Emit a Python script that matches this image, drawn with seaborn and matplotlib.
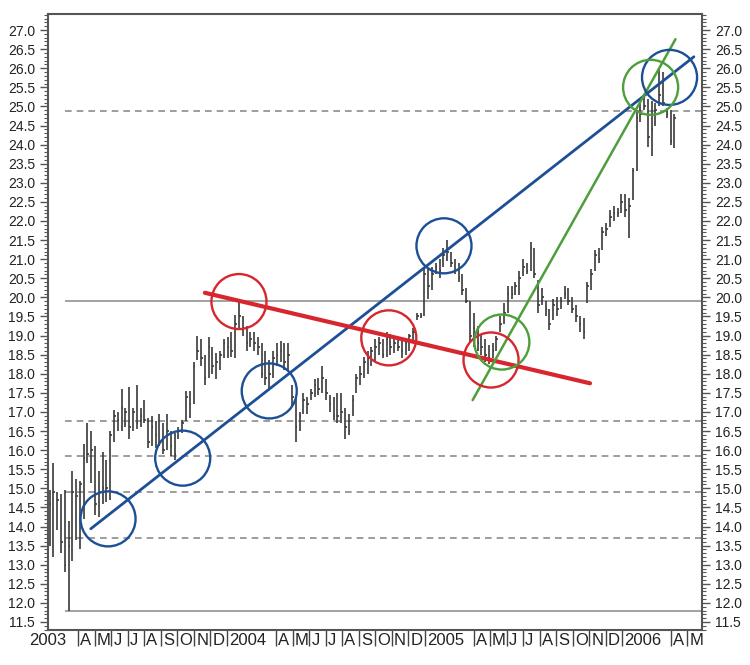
import matplotlib
matplotlib.use("Agg")
import matplotlib.pyplot as plt
import seaborn as sns
import pandas as pd
from matplotlib import font_manager, ticker, transforms

# weekly high / low / close, first bar on 2003-02-07
highs = [
    14.95, 15.65, 14.9, 14.85, 14.95, 14.15, 15.45, 15.25, 15.2, 16.15,
    16.7, 16.5, 16.1, 15.45, 15.95, 15.75, 16.5, 17.05, 17.0, 17.6,
    17.1, 17.65, 17.1, 17.7, 17.1, 17.3, 16.85, 16.9, 16.75, 16.95,
    16.7, 16.95, 16.5, 16.45, 16.6, 16.8, 17.55, 17.55, 18.3, 19.0,
    18.9, 18.5, 18.95, 18.7, 18.55, 18.6, 18.9, 18.95, 19.1, 19.55,
    19.9, 19.5, 19.25, 19.1, 19.1, 18.95, 18.8, 18.6, 18.35, 18.6,
    18.8, 18.85, 18.8, 18.8, 17.7, 17.4, 17.0, 17.5, 17.4, 17.6,
    17.85, 17.9, 18.2, 17.85, 17.45, 17.4, 17.5, 17.5, 17.1, 16.95,
    17.45, 18.0, 18.2, 18.45, 18.6, 18.7, 18.9, 18.95, 18.9, 19.1,
    19.05, 19.0, 18.95, 18.85, 18.9, 19.05, 19.2, 19.6, 19.6, 20.8,
    20.75, 20.8, 20.9, 21.0, 21.3, 21.5, 21.2, 21.0, 20.9, 20.6,
    20.25, 19.9, 19.6, 19.25, 19.05, 18.9, 18.75, 18.8, 19.0, 19.5,
    19.85, 20.3, 20.3, 20.4, 20.7, 21.0, 20.9, 21.45, 21.3, 20.45,
    20.25, 19.9, 19.7, 19.95, 20.0, 20.0, 20.3, 20.25, 20.0, 19.8,
    19.5, 19.45, 20.4, 20.75, 21.25, 21.3, 21.85, 21.95, 22.3, 22.4,
    22.35, 22.7, 22.7, 22.6, 23.4, 24.9, 25.1, 25.25, 25.2, 25.15,
    25.1, 26.0, 25.9, 24.95, 24.9, 24.8]
lows = [
    13.5, 13.2, 13.9, 13.3, 12.8, 11.8, 13.1, 13.65, 13.4, 14.2,
    15.65, 15.15, 14.3, 14.25, 14.6, 14.65, 14.7, 16.2, 16.5, 16.5,
    16.6, 16.3, 16.5, 16.55, 16.6, 16.7, 16.05, 16.1, 16.05, 16.1,
    15.9, 16.0, 15.85, 15.75, 16.3, 16.45, 16.75, 16.85, 17.2, 18.35,
    18.2, 17.7, 17.9, 18.0, 17.85, 18.1, 18.4, 18.4, 18.45, 18.4,
    19.2, 19.0, 18.6, 18.7, 18.6, 18.5, 17.9, 17.7, 17.6, 17.9,
    18.2, 18.3, 18.1, 18.1, 17.15, 16.2, 16.5, 16.95, 16.95, 17.3,
    17.4, 17.45, 17.5, 17.3, 17.0, 16.8, 16.7, 16.7, 16.3, 16.4,
    16.9, 17.5, 17.7, 17.9, 18.0, 18.2, 18.3, 18.5, 18.4, 18.45,
    18.5, 18.55, 18.6, 18.4, 18.5, 18.6, 18.8, 19.4, 19.45, 19.5,
    19.95, 20.2, 20.6, 20.5, 20.8, 20.95, 20.8, 20.6, 20.4, 20.05,
    19.85, 18.8, 18.7, 18.6, 18.5, 18.3, 18.25, 18.4, 18.6, 19.1,
    19.3, 19.6, 19.95, 20.05, 20.05, 20.55, 20.6, 20.7, 20.5, 19.6,
    19.8, 19.5, 19.15, 19.4, 19.5, 19.7, 19.95, 19.8, 19.6, 19.35,
    19.1, 18.9, 19.85, 20.2, 20.7, 20.9, 21.25, 21.6, 21.85, 22.0,
    22.1, 22.2, 22.1, 21.55, 22.55, 23.3, 24.6, 24.9, 23.95, 23.7,
    24.5, 25.0, 25.0, 24.7, 24.0, 23.9]
closes = [
    14.6, 14.9, 14.7, 13.6, 13.0, 13.5, 14.9, 14.8, 15.1, 15.8,
    15.9, 16.0, 14.6, 14.9, 15.0, 15.0, 16.4, 16.9, 16.8, 17.1,
    17.0, 16.6, 17.0, 16.7, 16.9, 16.8, 16.2, 16.6, 16.4, 16.2,
    16.0, 16.5, 16.1, 15.9, 16.5, 16.7, 17.4, 17.2, 18.2, 18.6,
    18.4, 17.9, 18.7, 18.2, 18.3, 18.5, 18.8, 18.7, 18.6, 19.3,
    19.5, 19.2, 18.8, 18.9, 18.8, 18.7, 18.0, 17.9, 18.0, 18.4,
    18.5, 18.6, 18.3, 18.5, 17.4, 16.6, 16.9, 17.3, 17.2, 17.5,
    17.7, 17.6, 17.9, 17.5, 17.2, 16.9, 16.9, 17.0, 16.6, 16.5,
    17.3, 17.9, 18.0, 18.3, 18.4, 18.6, 18.7, 18.8, 18.5, 18.9,
    18.7, 18.8, 18.7, 18.6, 18.8, 19.0, 19.1, 19.5, 19.5, 20.6,
    20.3, 20.6, 20.8, 20.7, 21.1, 21.2, 20.9, 20.7, 20.5, 20.2,
    19.9, 19.0, 19.2, 18.8, 18.7, 18.5, 18.4, 18.6, 18.9, 19.3,
    19.6, 20.1, 20.1, 20.3, 20.5, 20.8, 20.7, 21.3, 20.6, 19.8,
    20.0, 19.7, 19.3, 19.8, 19.7, 19.9, 20.1, 19.9, 19.7, 19.5,
    19.3, 19.1, 20.3, 20.6, 21.1, 21.0, 21.7, 21.8, 22.1, 22.2,
    22.2, 22.5, 22.3, 22.4, 23.3, 24.7, 24.8, 25.0, 24.2, 24.4,
    24.9, 25.3, 25.1, 24.8, 24.1, 24.7]

# horizontal support / resistance levels
solid_levels = [11.8, 19.9]
dashed_levels = [13.7, 14.9, 15.85, 16.77, 24.87]

# trend lines (two points each)
blue_x = ["2003-04-24", "2006-05-13"]
blue_y = [13.94, 26.30]
red_x = ["2003-11-21", "2005-11-02"]
red_y = [20.12, 17.75]
green_x = ["2005-03-30", "2006-04-09"]
green_y = [17.31, 26.76]

# circled touch points
blue_cx = ["2003-05-26", "2003-10-11", "2004-03-19", "2005-02-05", "2006-03-29"]
blue_cy = [14.20, 15.79, 17.55, 21.35, 25.76]
red_cx = ["2004-01-23", "2004-10-26", "2005-05-03"]
red_cy = [19.89, 18.94, 18.36]
green_cx = ["2005-05-23", "2006-02-22"]
green_cy = [18.83, 25.50]

# month ticks and labels
xtick_dates = ["2003-04-01", "2003-05-01", "2003-06-01", "2003-07-01", "2003-08-01",
               "2003-09-01", "2003-10-01", "2003-11-01", "2003-12-01", "2004-01-01",
               "2004-04-01", "2004-05-01", "2004-06-01", "2004-07-01", "2004-08-01",
               "2004-09-01", "2004-10-01", "2004-11-01", "2004-12-01", "2005-01-01",
               "2005-04-01", "2005-05-01", "2005-06-01", "2005-07-01", "2005-08-01",
               "2005-09-01", "2005-10-01", "2005-11-01", "2005-12-01", "2006-01-01",
               "2006-04-01", "2006-05-01"]
xtick_labels = ["A", "M", "J", "J", "A", "S", "O", "N", "D", "2004",
                "A", "M", "J", "J", "A", "S", "O", "N", "D", "2005",
                "A", "M", "J", "J", "A", "S", "O", "N", "D", "2006",
                "A", "M"]

BLUE = "#1c4f95"
RED = "#d8262e"
GREEN = "#4e9e3b"
BAR = "#3a3a3a"

sns.set_theme(style="ticks")
names = {f.name for f in font_manager.fontManager.ttflist}
fam = "Liberation Sans Narrow" if "Liberation Sans Narrow" in names else "Liberation Sans"
plt.rcParams["font.family"] = [fam, "DejaVu Sans"]

fig = plt.figure(figsize=(7.5, 6.65), dpi=100)
ax = fig.add_axes([48 / 750, 35 / 665, 654 / 750, 616 / 665])

xmin = pd.Timestamp("2003-02-04")
xmax = pd.Timestamp("2006-05-28")
line_start = pd.Timestamp("2003-03-07")

# reference levels
ax.hlines(solid_levels, line_start, xmax, color="#9a9a9a", lw=1.3, zorder=1)
ax.hlines(dashed_levels, line_start, xmax, color="#8c8c8c", lw=1.2,
          linestyles=(0, (4, 3)), zorder=1)

# weekly HLC bars
weeks = pd.date_range("2003-02-07", periods=len(highs), freq="7D")
ax.vlines(weeks, lows, highs, color=BAR, lw=1.2, zorder=2)
ax.hlines(closes, weeks, weeks + pd.Timedelta(days=3), color=BAR, lw=1.2, zorder=2)

# trend lines
sns.lineplot(x=pd.to_datetime(blue_x), y=blue_y, color=BLUE, lw=2.0, ax=ax, zorder=3)
sns.lineplot(x=pd.to_datetime(red_x), y=red_y, color=RED, lw=3.0, ax=ax, zorder=3)
sns.lineplot(x=pd.to_datetime(green_x), y=green_y, color=GREEN, lw=1.8, ax=ax, zorder=3)

# circles
for cx, cy, col in [(blue_cx, blue_cy, BLUE), (red_cx, red_cy, RED), (green_cx, green_cy, GREEN)]:
    ax.scatter(pd.to_datetime(cx), cy, s=1570, facecolors="none", edgecolors=col,
               linewidths=1.7, zorder=4)

ax.set_xlim(xmin, xmax)
ax.set_ylim(11.29, 27.42)
ax.set_xlabel("")
ax.set_ylabel("")

# y axis on both sides, ruler style
ax.yaxis.set_major_locator(ticker.MultipleLocator(0.5))
ax.yaxis.set_minor_locator(ticker.MultipleLocator(0.1))
ax.yaxis.set_major_formatter(ticker.FormatStrFormatter("%.1f"))
ax.tick_params(axis="y", which="major", left=True, right=True, labelleft=True,
               labelright=True, length=5.8, width=1, color="#555555",
               labelsize=10, pad=3.5, direction="out", labelcolor="#222222")
ax.tick_params(axis="y", which="minor", left=True, right=True, length=2.9,
               width=0.8, color="#555555", direction="out")

# x axis: month ticks with labels right of the tick
ax.set_xticks(pd.to_datetime(xtick_dates))
ax.set_xticklabels(xtick_labels)
ax.set_xticks([xmin], labels=["2003"], minor=True)
ax.tick_params(axis="x", which="major", length=11.5, width=1, color="#444444",
               pad=-9.5, labelsize=12, direction="out", labelcolor="#222222")
ax.tick_params(axis="x", which="minor", length=0, pad=2, labelsize=12,
               labelcolor="#222222")
shift = transforms.ScaledTranslation(1.5 / 72, 0, fig.dpi_scale_trans)
for lab in ax.get_xticklabels():
    lab.set_horizontalalignment("left")
    lab.set_transform(lab.get_transform() + shift)

for sp in ax.spines.values():
    sp.set_color("#555555")
    sp.set_linewidth(1.5)

fig.savefig("out.png", dpi=100)
